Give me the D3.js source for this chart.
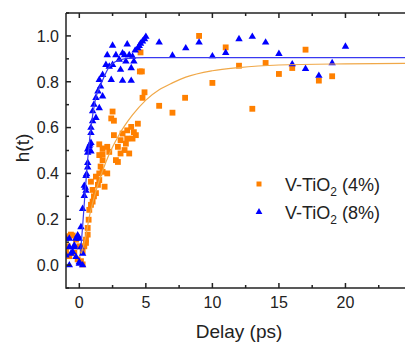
<!DOCTYPE html>
<html>
<head>
<meta charset="utf-8">
<script src="https://cdn.jsdelivr.net/npm/d3@7"></script>
<style>
  html, body { margin: 0; padding: 0; background: #fff; }
  svg text { font-family: Arial, "Liberation Sans", sans-serif; fill: #222; }
</style>
</head>
<body>
<div id="chart"></div>
<script>
// --- Data ---
const xTicks = [0, 5, 10, 15, 20];
const yTicks = [0.0, 0.2, 0.4, 0.6, 0.8, 1.0];

// V-TiO2 (4%) : orange squares
const t4 = [-1.0, -0.875, -1.0, -0.75, -0.63, -0.5, -0.375, -0.25, -0.125, 0.0, 0.125, 0.25, 0.25, 0.375, 0.5, 0.5,
  0.63, 0.63, 0.7, 0.75, 0.875, 1.0, 1.1, 1.25, 1.0, 1.9, 1.4, 0.875, 1.5, 1.25, 1.5, 2.1, 1.75, 1.6, 1.75, 2.75,
  2.9, 1.5, 1.75, 2.25, 3.1, 3.75, 1.75, 2.1, 2.9, 3.4, 1.5, 3.5, 3.1, 3.6, 4.0, 2.6, 4.25, 4.1, 3.25, 3.6, 3.9,
  4.4, 2.6, 2.4, 2.5, 4.75, 4.9, 4.55, 4.7, 4.6, 6.0, 7.0, 7.95, 9, 10, 11, 12, 13, 14, 15, 16, 17, 18, 19];
const h4 = [0.126, 0.082, 0.061, 0.039, 0.133, 0.129, 0.054, 0.111, 0.025, 0.082, 0.017, 0.003, 0.061, 0.082, 0.111, 0.097,
  0.133, 0.162, 0.198, 0.241, 0.263, 0.277, 0.300, 0.314, 0.328, 0.342, 0.350, 0.364, 0.371, 0.386, 0.400, 0.400, 0.407, 0.430, 0.458, 0.458,
  0.450, 0.480, 0.484, 0.494, 0.487, 0.487, 0.509, 0.516, 0.516, 0.502, 0.527, 0.530, 0.545, 0.552, 0.552, 0.567, 0.567, 0.580, 0.574, 0.588, 0.603,
  0.617, 0.630, 0.640, 0.670, 0.730, 0.754, 0.845, 0.845, 0.928, 0.695, 0.665, 0.730, 1.000, 0.795, 0.950, 0.870, 0.682, 0.882, 0.834, 0.860, 0.940, 0.805, 0.824];

// V-TiO2 (8%) : blue triangles
const t8 = [-1.0, -1.0, -0.75, -0.75, -0.75, -0.63, -0.5, -0.375, -0.375, -0.25, -0.25, -0.125, 0.0, 0.0, 0.0, 0.125, 0.125,
  0.25, 0.25, 0.25, 0.375, 0.375, 0.45, 0.5, 0.5, 0.55, 0.63, 0.63, 0.63, 0.63, 0.75, 0.8, 0.875, 0.875, 0.875, 0.875,
  1.0, 1.25, 1.0, 1.5, 1.1, 1.25, 1.75, 1.4, 1.6, 1.5, 2.4, 3.25, 3.9, 1.75, 3.1, 3.9, 2.25, 2.0, 2.5, 3.5, 4.1, 3.0,
  4.0, 2.1, 2.75, 3.75, 3.25, 3.4, 4.2, 4.4, 4.5, 4.6, 4.75, 4.9, 5.0, 2.5, 3.6, 6, 7, 8, 9, 10, 11, 12, 13, 14, 15,
  16, 17, 18, 19, 20];
const h8 = [0.119, 0.046, 0.119, 0.082, 0.003, 0.054, 0.061, 0.090, 0.082, 0.119, 0.039, 0.133, 0.119, 0.010, 0.017, 0.082, 0.169,
  0.054, 0.003, 0.249, 0.306, 0.350, 0.342, 0.328, 0.393, 0.400, 0.430, 0.450, 0.494, 0.509, 0.523, 0.530, 0.500, 0.537, 0.580, 0.603,
  0.632, 0.646, 0.675, 0.689, 0.704, 0.733, 0.740, 0.762, 0.783, 0.812, 0.812, 0.808, 0.808, 0.834, 0.856, 0.863, 0.870, 0.877, 0.877, 0.892, 0.892, 0.900,
  0.913, 0.920, 0.920, 0.920, 0.928, 0.920, 0.940, 0.950, 0.960, 0.970, 0.980, 0.990, 1.000, 0.961, 0.967, 0.975, 0.918, 0.950, 0.975, 0.915, 0.930, 0.990, 1.000, 0.975, 0.925,
  0.880, 0.860, 0.830, 0.885, 0.957];

// fit curves
const fit4T = [0.15, 0.5, 0.75, 1.0, 1.5, 2.0, 2.5, 3.0, 4.0, 5.0, 6.0, 7.0, 8.0, 10.0, 12.0, 15.0, 20.0, 25.0];
const fit4H = [0.05, 0.13, 0.21, 0.27, 0.37, 0.45, 0.515, 0.57, 0.655, 0.72, 0.765, 0.795, 0.82, 0.848, 0.862, 0.873, 0.878, 0.88];
const fit8T = [0.1, 0.25, 0.45, 0.63, 0.875, 1.2, 1.7, 2.25, 3.0, 4.0, 5.0, 25.0];
const fit8H = [0.06, 0.17, 0.33, 0.46, 0.6, 0.72, 0.8, 0.865, 0.895, 0.904, 0.905, 0.905];

const seriesNames = ['V-TiO', 'V-TiO'];
const seriesTails = [' (4%)', ' (8%)'];
const orange = '#ff8000', orangeLine = '#f0a848', blue = '#0000ff', blueLine = '#3a3af0';

// --- Layout ---
const W = 405, H = 343;
const plot = { left: 66, top: 13, right: 412, bottom: 288 };

const svg = d3.select('#chart').append('svg')
  .attr('width', W).attr('height', H);

const x = d3.scaleLinear().domain([-1, 25]).range([plot.left, plot.right]);
const y = d3.scaleLinear().domain([-0.1, 1.1]).range([plot.bottom, plot.top]);

svg.append('clipPath').attr('id', 'clip')
  .append('rect')
  .attr('x', plot.left).attr('y', plot.top)
  .attr('width', plot.right - plot.left).attr('height', plot.bottom - plot.top);

const g = svg.append('g').attr('clip-path', 'url(#clip)');

// markers
const sq = d3.symbol().type(d3.symbolSquare).size(34);
const tri = d3.symbol().type(d3.symbolTriangle).size(24);

g.selectAll('.p4')
  .data(d3.zip(t4, h4))
  .enter().append('path')
  .attr('class', 'p4')
  .attr('d', sq)
  .attr('transform', d => `translate(${x(d[0])},${y(d[1])})`)
  .attr('fill', orange);

g.selectAll('.p8')
  .data(d3.zip(t8, h8))
  .enter().append('path')
  .attr('class', 'p8')
  .attr('d', tri)
  .attr('transform', d => `translate(${x(d[0])},${y(d[1]) + 0.8})`)
  .attr('fill', blue);

const line = d3.line().x(d => x(d[0])).y(d => y(d[1])).curve(d3.curveMonotoneX);

g.append('path')
  .datum(d3.zip(fit4T, fit4H))
  .attr('d', line)
  .attr('fill', 'none').attr('stroke', orangeLine).attr('stroke-width', 1.2);

g.append('path')
  .datum(d3.zip(fit8T, fit8H))
  .attr('d', line)
  .attr('fill', 'none').attr('stroke', blueLine).attr('stroke-width', 1.2);

// --- Axes (ticks inward) ---
const xMinor = d3.range(-0, 25.1, 2.5).filter(v => v % 5 !== 0);
const yMinor = d3.range(-0.1, 1.11, 0.2).map(v => +v.toFixed(1));

const axes = svg.append('g').attr('stroke', '#222').attr('stroke-width', 1.5);

// frame lines: left, bottom, top
axes.append('line').attr('x1', plot.left).attr('x2', plot.left).attr('y1', plot.top).attr('y2', plot.bottom + 0.75);
axes.append('line').attr('x1', plot.left).attr('x2', plot.right).attr('y1', plot.bottom).attr('y2', plot.bottom);
axes.append('line').attr('x1', plot.left).attr('x2', plot.right).attr('y1', plot.top).attr('y2', plot.top);

// bottom & top ticks
[[plot.bottom, -1], [plot.top, 1]].forEach(([yy, dir]) => {
  axes.selectAll(null).data(xTicks).enter().append('line')
    .attr('x1', d => x(d)).attr('x2', d => x(d))
    .attr('y1', yy).attr('y2', yy + dir * 5);
  axes.selectAll(null).data(xMinor).enter().append('line')
    .attr('x1', d => x(d)).attr('x2', d => x(d))
    .attr('y1', yy).attr('y2', yy + dir * 3);
});

// left ticks
axes.selectAll(null).data(yTicks).enter().append('line')
  .attr('x1', plot.left).attr('x2', plot.left + 5)
  .attr('y1', d => y(d)).attr('y2', d => y(d));
axes.selectAll(null).data(yMinor).enter().append('line')
  .attr('x1', plot.left).attr('x2', plot.left + 3)
  .attr('y1', d => y(d)).attr('y2', d => y(d));

// tick labels
svg.selectAll('.xl').data(xTicks).enter().append('text')
  .attr('class', 'xl')
  .attr('x', d => x(d)).attr('y', 308)
  .attr('text-anchor', 'middle').attr('font-size', 16)
  .text(d => d);

svg.selectAll('.yl').data(yTicks).enter().append('text')
  .attr('class', 'yl')
  .attr('x', 59).attr('y', d => y(d) + 5.8)
  .attr('text-anchor', 'end').attr('font-size', 16)
  .text(d => d.toFixed(1));

// axis titles
svg.append('text')
  .attr('x', 239).attr('y', 338)
  .attr('text-anchor', 'middle').attr('font-size', 19)
  .text('Delay (ps)');

svg.append('text')
  .attr('transform', 'translate(29,148) rotate(-90)')
  .attr('text-anchor', 'middle').attr('font-size', 19)
  .text('h(t)');

// --- Legend ---
const legend = svg.append('g');
const rows = [
  { sym: sq, color: orange, cy: 184, size: 1 },
  { sym: tri, color: blue, cy: 212, size: 1 }
];
rows.forEach((r, i) => {
  legend.append('path')
    .attr('d', i === 0 ? d3.symbol().type(d3.symbolSquare).size(25)() : d3.symbol().type(d3.symbolTriangle).size(20)())
    .attr('transform', `translate(259,${r.cy})`)
    .attr('fill', r.color);
  const t = legend.append('text')
    .attr('x', 285).attr('y', r.cy + 6.5)
    .attr('font-size', 18);
  t.append('tspan').text(seriesNames[i]);
  t.append('tspan').attr('dy', 5).attr('font-size', 12).text('2');
  t.append('tspan').attr('dy', -5).text(seriesTails[i]);
});
</script>
</body>
</html>
